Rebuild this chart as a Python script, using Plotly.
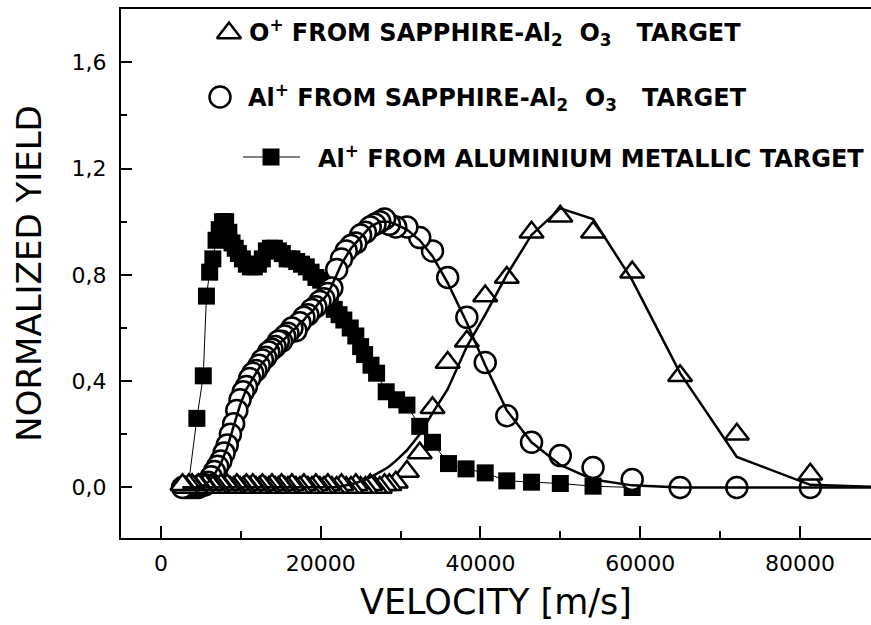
import plotly.graph_objects as go

# ---------------------------------------------------------------------------
# Data: normalized ion yield versus velocity
# ---------------------------------------------------------------------------
# Velocity bins of the sapphire (Al2O3) target spectra [m/s]
V_SAPPHIRE = [2700, 3100, 3500, 3900, 4300, 4700, 5100, 5500, 5900, 6300,
              6700, 7100, 7500, 7900, 8300, 8700, 9100, 9500, 9900, 10300,
              10700, 11100, 11500, 11900, 12300, 12700, 13100, 13500, 13900, 14300,
              14700, 15100, 15500, 15900,
              16400, 16900, 17400, 17900, 18400, 18900, 19400, 19900, 20400, 20900, 21400,
              22000, 22600, 23200, 23800, 24400, 25000, 25600, 26200, 26800, 27400,
              28000, 28600, 29400,
              30800, 32400, 34000, 35900, 38300, 40600, 43300, 46400, 50000, 54100,
              59000, 65000, 72100, 81300]

# O+ from sapphire target
O_PLUS = [0.01, 0.00, 0.01, 0.01, 0.00, 0.01, 0.00, 0.01, 0.00, 0.01,
          0.00, 0.00, 0.01, 0.00, 0.01, 0.00, 0.00, 0.01, 0.00, 0.00,
          0.01, 0.00, 0.01, 0.00, 0.00, 0.01, 0.00, 0.00, 0.01, 0.00,
          0.00, 0.01, 0.00, 0.00,
          0.01, 0.00, 0.00, 0.01, 0.00, 0.00, 0.01, 0.00, 0.00, 0.01, 0.00,
          0.00, 0.01, 0.00, 0.00, 0.01, 0.00, 0.00, 0.01, 0.00, 0.00,
          0.01, 0.01, 0.02,
          0.06, 0.13, 0.30, 0.47, 0.55, 0.72, 0.79, 0.96, 1.02, 0.96,
          0.81, 0.42, 0.20, 0.05]

# Al+ from sapphire target
AL_PLUS_SAPPHIRE = [0.00, 0.00, 0.00, 0.00, 0.00, 0.00, 0.01, 0.01, 0.02, 0.04,
                    0.06, 0.08, 0.10, 0.13, 0.16, 0.20, 0.24, 0.29, 0.33, 0.36,
                    0.38, 0.41, 0.43, 0.44, 0.46, 0.48, 0.49, 0.51, 0.52, 0.53,
                    0.55, 0.55, 0.57, 0.58,
                    0.60, 0.59, 0.62, 0.64, 0.65, 0.67, 0.68, 0.70, 0.71, 0.73, 0.75,
                    0.82, 0.86, 0.89, 0.91, 0.92, 0.95, 0.96, 0.98, 0.99, 1.00,
                    1.01, 0.99, 0.98,
                    0.98, 0.94, 0.89, 0.79, 0.64, 0.47, 0.27, 0.17, 0.12, 0.075,
                    0.03, 0.00, 0.00, 0.00]

# Model curves, evaluated on the same bins plus one point past the axis end
V_FIT = V_SAPPHIRE + [92000]

O_PLUS_FIT = [0.0, 0.0, 0.0, 0.0, 0.0, 0.0, 0.0, 0.0, 0.0, 0.0,
              0.0, 0.0, 0.0, 0.0, 0.0, 0.0, 0.0, 0.0, 0.0, 0.0,
              0.0, 0.0, 0.0, 0.0, 0.0, 0.0, 0.0, 0.0, 0.0, 0.0,
              0.0, 0.0, 0.0, 0.0,
              0.0, 0.0, 0.0, 0.0, 0.0, 0.0, 0.0, 0.0, 0.0, 0.0, 0.0,
              0.002, 0.005, 0.008, 0.012, 0.017, 0.023, 0.030, 0.038, 0.047, 0.057,
              0.068, 0.080, 0.100,
              0.14, 0.20, 0.28, 0.37, 0.53, 0.65, 0.80, 0.95, 1.05, 1.01,
              0.78, 0.43, 0.115, 0.01, 0.0]

AL_PLUS_FIT = [0.0, 0.0, 0.0, 0.0, 0.0, 0.0, 0.005, 0.01, 0.02, 0.035,
               0.05, 0.07, 0.09, 0.12, 0.15, 0.19, 0.23, 0.27, 0.31, 0.34,
               0.37, 0.39, 0.41, 0.43, 0.45, 0.47, 0.48, 0.50, 0.51, 0.52,
               0.54, 0.55, 0.56, 0.57,
               0.59, 0.60, 0.62, 0.63, 0.65, 0.66, 0.68, 0.70, 0.71, 0.73, 0.76,
               0.80, 0.84, 0.87, 0.90, 0.92, 0.94, 0.96, 0.98, 0.99, 1.00,
               1.00, 1.00, 0.99,
               0.97, 0.93, 0.87, 0.77, 0.62, 0.46, 0.29, 0.17, 0.085, 0.03,
               0.008, 0.0, 0.0, 0.0, 0.0]

# Al+ from metallic aluminium target
V_METAL = [3400, 4500, 5300, 5700, 6100, 6500, 6900, 7300, 7700, 8100,
           8500, 8900, 9300, 9700, 10200, 10700, 11200, 11700, 12200, 12700,
           13200, 13700, 14200, 14700, 15200, 15800, 16400, 17000, 17600, 18200,
           18800, 19400, 20000, 20600, 21200, 21700, 22300, 22900, 23700, 24400,
           25000, 25500, 26300, 27000, 28200, 29500, 30800, 32400, 34000, 36000,
           38200, 40600, 43300, 46400, 50000, 54100, 59000]
AL_PLUS_METAL = [0.00, 0.26, 0.42, 0.72, 0.81, 0.86, 0.93, 0.97, 1.00, 1.00,
                 0.96, 0.92, 0.90, 0.88, 0.86, 0.84, 0.83, 0.83, 0.84, 0.86,
                 0.89, 0.90, 0.90, 0.89, 0.88, 0.86, 0.86, 0.85, 0.84, 0.83,
                 0.81, 0.79, 0.78, 0.76, 0.71, 0.67, 0.65, 0.63, 0.60, 0.57,
                 0.53, 0.50, 0.46, 0.43, 0.36, 0.33, 0.31, 0.23, 0.17, 0.09,
                 0.07, 0.055, 0.025, 0.02, 0.015, 0.005, 0.00]

X_TITLE = "VELOCITY [m/s]"
Y_TITLE = "NORMALIZED YIELD"
FORMULA = "Al<sub>2</sub>&nbsp;&nbsp;O<sub>3</sub>&nbsp;&nbsp;&nbsp;"
LEGEND_TEXT = [
    "O<sup>+</sup> FROM SAPPHIRE-" + FORMULA + "TARGET",
    "Al<sup>+</sup> FROM SAPPHIRE-" + FORMULA + "TARGET",
    "Al<sup>+</sup> FROM ALUMINIUM METALLIC TARGET",
]

# ---------------------------------------------------------------------------
# Layout geometry (pixels)
# ---------------------------------------------------------------------------
W, H = 871, 625
PLOT_L, PLOT_R, PLOT_T, PLOT_B = 121, 871, 9, 538


def paper_x(px):
    return (px - PLOT_L) / (PLOT_R - PLOT_L)


def paper_y(py):
    return (PLOT_B - py) / (PLOT_B - PLOT_T)


BLACK = "black"
TICK_FONT = dict(family="DejaVu Sans", size=22, color=BLACK)
TITLE_FONT = "DejaVu Sans"
LEGEND_FONT = dict(family="DejaVu Sans", size=24, color=BLACK, weight="bold")

SQ_SIZE = 17
CIRC_SIZE = 21
TRI_SIZE = 21
MARK_LW = 2.5

fig = go.Figure()

# Metallic target: filled squares joined by a thin line
# (points are drawn from high to low velocity so slow ions end up on top)
fig.add_trace(go.Scatter(
    x=V_METAL[::-1], y=AL_PLUS_METAL[::-1], mode="lines+markers",
    line=dict(color=BLACK, width=1),
    marker=dict(symbol="square", size=SQ_SIZE, color=BLACK, line=dict(width=0)),
    showlegend=False,
))

# Sapphire target, Al+ : white circles
fig.add_trace(go.Scatter(
    x=V_SAPPHIRE[::-1], y=AL_PLUS_SAPPHIRE[::-1], mode="markers",
    marker=dict(symbol="circle", size=CIRC_SIZE, color="white",
                line=dict(color=BLACK, width=MARK_LW)),
    showlegend=False,
))

# Sapphire target, O+ : white triangles
fig.add_trace(go.Scatter(
    x=V_SAPPHIRE[::-1], y=O_PLUS[::-1], mode="markers",
    marker=dict(symbol="triangle-up", size=TRI_SIZE, color="white",
                line=dict(color=BLACK, width=MARK_LW)),
    showlegend=False,
))

# Model curves
fig.add_trace(go.Scatter(
    x=V_FIT, y=AL_PLUS_FIT, mode="lines",
    line=dict(color=BLACK, width=2.5), showlegend=False, hoverinfo="skip",
))
fig.add_trace(go.Scatter(
    x=V_FIT, y=O_PLUS_FIT, mode="lines",
    line=dict(color=BLACK, width=2.5), showlegend=False, hoverinfo="skip",
))

# ---------------------------------------------------------------------------
# Legend block (keys on an overlay axis spanning the plot area, text as
# annotations)
# ---------------------------------------------------------------------------
KEY_TRI = (229, 33)
KEY_CIRC = (220, 97)
KEY_SQ = (271, 157)
KEY_SQ_LINE = (243, 300)
TEXT_POS = [(247, 33), (246, 97), (316, 157)]

fig.add_trace(go.Scatter(
    x=[paper_x(KEY_TRI[0])], y=[paper_y(KEY_TRI[1])], xaxis="x2", yaxis="y2",
    mode="markers", cliponaxis=False, showlegend=False, hoverinfo="skip",
    marker=dict(symbol="triangle-up", size=TRI_SIZE, color="white",
                line=dict(color=BLACK, width=MARK_LW)),
))
fig.add_trace(go.Scatter(
    x=[paper_x(KEY_CIRC[0])], y=[paper_y(KEY_CIRC[1])], xaxis="x2", yaxis="y2",
    mode="markers", cliponaxis=False, showlegend=False, hoverinfo="skip",
    marker=dict(symbol="circle", size=CIRC_SIZE, color="white",
                line=dict(color=BLACK, width=MARK_LW)),
))
fig.add_trace(go.Scatter(
    x=[paper_x(KEY_SQ_LINE[0]), paper_x(KEY_SQ_LINE[1])],
    y=[paper_y(KEY_SQ[1])] * 2, xaxis="x2", yaxis="y2",
    mode="lines", cliponaxis=False, showlegend=False, hoverinfo="skip",
    line=dict(color=BLACK, width=1),
))
fig.add_trace(go.Scatter(
    x=[paper_x(KEY_SQ[0])], y=[paper_y(KEY_SQ[1])], xaxis="x2", yaxis="y2",
    mode="markers", cliponaxis=False, showlegend=False, hoverinfo="skip",
    marker=dict(symbol="square", size=SQ_SIZE, color=BLACK, line=dict(width=0)),
))

annotations = []
for text, (px, py) in zip(LEGEND_TEXT, TEXT_POS):
    annotations.append(dict(
        text=text, xref="paper", yref="paper", x=paper_x(px), y=paper_y(py),
        xanchor="left", yanchor="middle", showarrow=False, font=LEGEND_FONT,
    ))

fig.update_layout(
    width=W, height=H,
    margin=dict(l=PLOT_L, r=W - PLOT_R, t=PLOT_T, b=H - PLOT_B, pad=0),
    paper_bgcolor="white", plot_bgcolor="white",
    showlegend=False,
    separators=",.",
    annotations=annotations,
    xaxis=dict(
        range=[-5000, 88900], tick0=0, dtick=20000, tickformat="d",
        ticks="inside", ticklen=12, tickwidth=2, tickcolor=BLACK,
        minor=dict(dtick=10000, tick0=0, ticks="inside", ticklen=7,
                   tickwidth=2, tickcolor=BLACK),
        showline=True, linewidth=2, linecolor=BLACK, mirror=True,
        showgrid=False, zeroline=False,
        tickfont=TICK_FONT, ticklabelstandoff=5,
        title=dict(text=X_TITLE, font=dict(family=TITLE_FONT, size=35, color=BLACK),
                   standoff=14),
    ),
    yaxis=dict(
        range=[-0.19, 1.80], tick0=0, dtick=0.4, tickformat=".1f",
        ticks="inside", ticklen=11, tickwidth=2, tickcolor=BLACK,
        minor=dict(dtick=0.2, tick0=0, ticks="inside", ticklen=6,
                   tickwidth=2, tickcolor=BLACK),
        showline=True, linewidth=2, linecolor=BLACK, mirror=False,
        showgrid=False, zeroline=False,
        tickfont=TICK_FONT, ticklabelstandoff=8,
        title=dict(text=Y_TITLE, font=dict(family=TITLE_FONT, size=34, color=BLACK),
                   standoff=20),
    ),
    xaxis2=dict(overlaying="x", range=[0, 1], visible=False, fixedrange=True),
    yaxis2=dict(overlaying="y", range=[0, 1], visible=False, fixedrange=True),
)

fig.write_html("out.html")
